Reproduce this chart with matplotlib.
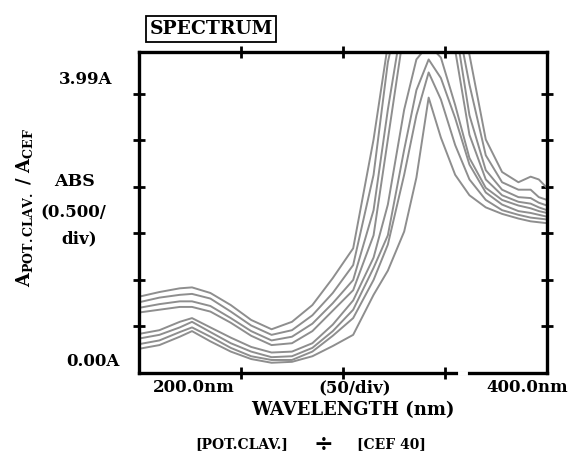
import matplotlib
matplotlib.use("Agg")
import matplotlib.pyplot as plt

plt.rcParams["mathtext.fontset"] = "dejavuserif"

# wavelength grid (nm) shared by all traces
wavelength = [200, 210, 220, 226, 235, 245, 255, 265, 275, 285, 295, 305, 315,
              322, 330, 336, 342, 348, 355, 362, 370, 378, 386, 392, 396, 400]

# absorbance ratio traces, top to bottom
trace1 = [0.82, 0.87, 0.91, 0.92, 0.86, 0.73, 0.57, 0.47, 0.55, 0.73, 1.02, 1.34, 2.51,
          3.53, 4.28, 4.60, 4.66, 4.55, 4.12, 3.42, 2.51, 2.16, 2.05, 2.11, 2.08, 1.99]
trace2 = [0.76, 0.81, 0.84, 0.85, 0.80, 0.66, 0.51, 0.41, 0.46, 0.62, 0.86, 1.16, 2.13,
          3.34, 4.12, 4.44, 4.49, 4.39, 3.90, 3.10, 2.34, 2.05, 1.97, 1.97, 1.89, 1.86]
trace3 = [0.70, 0.74, 0.77, 0.77, 0.72, 0.59, 0.45, 0.35, 0.39, 0.53, 0.75, 1.00, 1.75,
          2.83, 3.90, 4.28, 4.39, 4.23, 3.74, 2.77, 2.18, 1.97, 1.89, 1.88, 1.83, 1.80]
trace4 = [0.65, 0.68, 0.71, 0.71, 0.66, 0.54, 0.40, 0.30, 0.32, 0.45, 0.67, 0.89, 1.48,
          2.51, 3.69, 4.12, 4.23, 4.06, 3.47, 2.56, 2.08, 1.91, 1.84, 1.82, 1.78, 1.75]
trace5 = [0.42, 0.46, 0.55, 0.59, 0.49, 0.38, 0.28, 0.22, 0.23, 0.32, 0.52, 0.78, 1.24,
          1.81, 2.83, 3.37, 3.53, 3.39, 2.88, 2.31, 1.99, 1.86, 1.80, 1.77, 1.74, 1.72]
trace6 = [0.37, 0.41, 0.49, 0.55, 0.44, 0.32, 0.23, 0.17, 0.18, 0.27, 0.45, 0.68, 1.13,
          1.48, 2.40, 3.04, 3.37, 3.17, 2.74, 2.24, 1.94, 1.81, 1.74, 1.72, 1.70, 1.68]
trace7 = [0.31, 0.35, 0.44, 0.49, 0.39, 0.27, 0.18, 0.14, 0.14, 0.23, 0.40, 0.59, 1.00,
          1.38, 2.13, 2.77, 3.23, 2.94, 2.45, 2.08, 1.86, 1.75, 1.70, 1.67, 1.66, 1.65]
trace8 = [0.26, 0.30, 0.39, 0.45, 0.34, 0.23, 0.15, 0.11, 0.12, 0.18, 0.29, 0.41, 0.84,
          1.10, 1.52, 2.10, 2.96, 2.53, 2.13, 1.91, 1.78, 1.71, 1.66, 1.63, 1.62, 1.61]
traces = [trace1, trace2, trace3, trace4, trace5, trace6, trace7, trace8]

x_ticks = [250, 300, 350]
y_ticks = [0.5, 1.0, 1.5, 2.0, 2.5, 3.0]

BOLD = dict(family="DejaVu Serif", fontweight="bold", color="black")

fig = plt.figure(figsize=(5.71, 4.58), dpi=100)
ax = fig.add_axes([0.2434, 0.1856, 0.7145, 0.7009])

for tr in traces:
    ax.plot(wavelength, tr, color="#8e8e8e", lw=1.4)

ax.set_xlim(200, 400)
ax.set_ylim(0, 3.45)
ax.set_xticks(x_ticks)
ax.set_yticks(y_ticks)
ax.tick_params(direction="inout", length=9, width=2, top=True, right=True,
               labelbottom=False, labelleft=False)
for s in ax.spines.values():
    s.set_linewidth(2.4)

# small break in the bottom axis line
ax.plot([357.4, 359.8], [0, 0], color="white", lw=3.5, clip_on=False, zorder=5,
        transform=ax.get_xaxis_transform())

# title box
fig.text(211 / 571, 1 - 29 / 458, "SPECTRUM", ha="center", va="center", fontsize=13.5,
         bbox=dict(boxstyle="square,pad=0.2", fc="white", ec="black", lw=1.3), **BOLD)

# y side labels
fig.text(112 / 571, 1 - 80 / 458, "3.99A", ha="right", va="center", fontsize=12, **BOLD)
fig.text(75 / 571, 1 - 182 / 458, "ABS", ha="center", va="center", fontsize=12.5, **BOLD)
fig.text(73 / 571, 1 - 213 / 458, "(0.500/", ha="center", va="center", fontsize=12, **BOLD)
fig.text(79 / 571, 1 - 239 / 458, "div)", ha="center", va="center", fontsize=12, **BOLD)
fig.text(120 / 571, 1 - 361 / 458, "0.00A", ha="right", va="center", fontsize=12, **BOLD)
fig.text(25 / 571, 1 - 207 / 458, r"$\mathbf{A_{POT.CLAV.}\ /\ A_{CEF}}$", rotation=90,
         ha="center", va="center", fontsize=13, color="black")

# x side labels
fig.text(194 / 571, 1 - 388 / 458, "200.0nm", ha="center", va="center", fontsize=12, **BOLD)
fig.text(355 / 571, 1 - 388 / 458, "(50/div)", ha="center", va="center", fontsize=12, **BOLD)
fig.text(527 / 571, 1 - 387 / 458, "400.0nm", ha="center", va="center", fontsize=12, **BOLD)
fig.text(353 / 571, 1 - 410 / 458, "WAVELENGTH (nm)", ha="center", va="center",
         fontsize=13, **BOLD)

# ratio caption
fig.text(242 / 571, 1 - 444 / 458, "[POT.CLAV.]", ha="center", va="center",
         fontsize=10, **BOLD)
fig.text(323 / 571, 1 - 444 / 458, "\u00f7", ha="center", va="center", fontsize=17, **BOLD)
fig.text(391 / 571, 1 - 444 / 458, "[CEF 40]", ha="center", va="center", fontsize=10, **BOLD)

fig.savefig("out.png", dpi=100)
plt.close(fig)
